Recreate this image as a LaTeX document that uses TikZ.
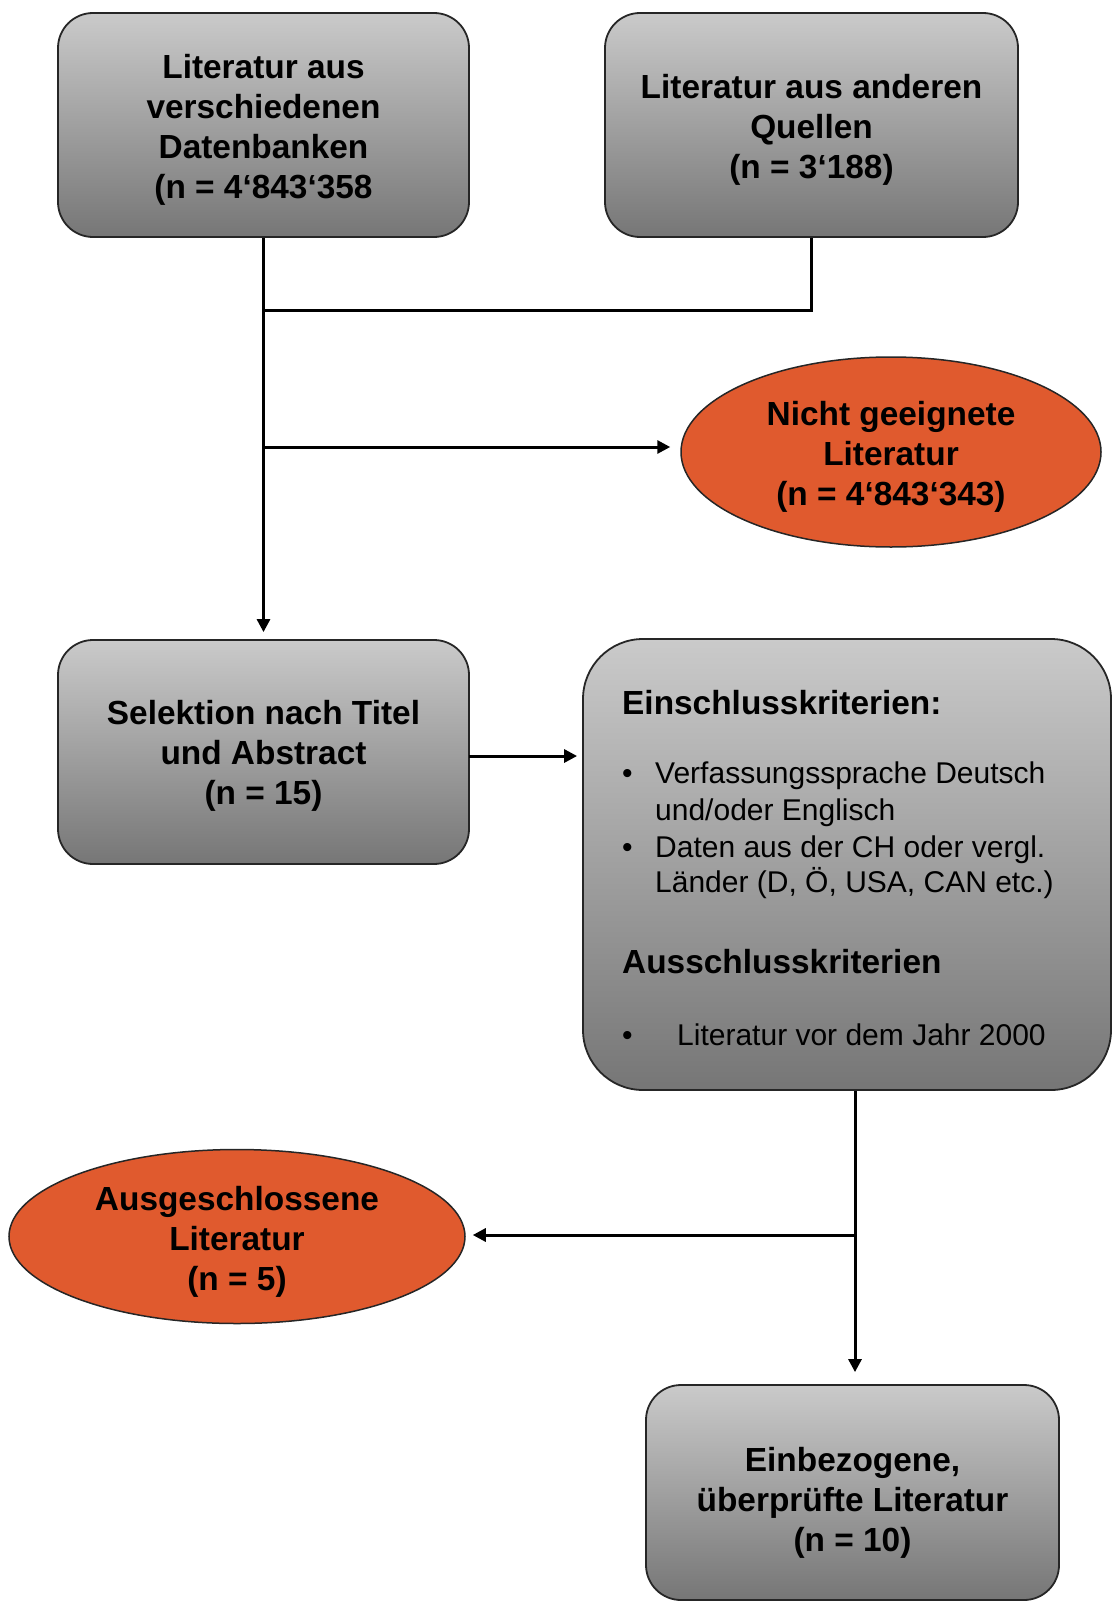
\documentclass[tikz,border=0pt]{standalone}
\usepackage{fontspec}
\setmainfont{Liberation Sans}
\usetikzlibrary{arrows.meta,shapes.geometric}
\definecolor{gtop}{RGB}{202,202,202}
\definecolor{gbot}{RGB}{118,118,118}
\definecolor{orng}{RGB}{224,90,46}
\begin{document}
\begin{tikzpicture}[x=1pt,y=-1pt,
  bigfont/.style={font=\bfseries\fontsize{33.4}{40}\selectfont},
  smallfont/.style={font=\fontsize{30}{36.5}\selectfont},
  gbox/.style={draw=black!85, line width=1.8pt, rounded corners=35pt,
    top color=gtop, bottom color=gbot, inner sep=0pt},
  oval/.style={ellipse, draw=black!85, line width=1.5pt, fill=orng, inner sep=0pt},
  lbl/.style={align=center, inner sep=0pt, bigfont},
  txt/.style={anchor=base west, inner sep=0pt},
  conn/.style={line width=3pt, black, line join=miter},
  arr/.style={conn, -{Triangle[length=13pt,width=13pt]}}
]
\useasboundingbox (0,0) rectangle (1113,1603);

\node[gbox, minimum width=411pt, minimum height=224pt] (b1) at (263.5,125) {};
\node[lbl] (b1t) at ([yshift=-5pt]b1.center)
  {Literatur aus\\verschiedenen\\Datenbanken\\(n = 4‘843‘358};
\node[gbox, minimum width=413pt, minimum height=224pt] (b2) at (811.5,125) {};
\node[lbl] (b2t) at ([yshift=-5pt]b2.center)
  {Literatur aus anderen\\Quellen\\(n = 3‘188)};
\node[oval, minimum width=420pt, minimum height=190pt] (e1) at (891,452) {};
\node[lbl] (e1t) at ([yshift=-5pt]e1.center)
  {Nicht geeignete\\Literatur\\(n = 4‘843‘343)};
\node[gbox, minimum width=411pt, minimum height=224pt] (b3) at (263.5,752) {};
\node[lbl] (b3t) at ([yshift=-4pt]b3.center)
  {Selektion nach Titel\\und Abstract\\(n = 15)};
\node[gbox, rounded corners=60pt, minimum width=528pt, minimum height=451pt] (b4) at (847,864.5) {};
\node[oval, minimum width=456pt, minimum height=174pt] (e2) at (237,1236.5) {};
\node[lbl] (e2t) at ([yshift=-5pt]e2.center)
  {Ausgeschlossene\\Literatur\\(n = 5)};
\node[gbox, minimum width=413pt, minimum height=215pt] (b5) at (852.5,1492.5) {};
\node[lbl] (b5t) at ([yshift=-10pt]b5.center)
  {Einbezogene,\\überprüfte Literatur\\(n = 10)};

% criteria text
\node[txt, bigfont] (h1) at (622,714) {Einschlusskriterien:};
\node[txt, smallfont] (d1) at (622,783) {•};
\node[txt, smallfont] (t1) at (655,783) {Verfassungssprache Deutsch};
\node[txt, smallfont] (t2) at (655,820) {und/oder Englisch};
\node[txt, smallfont] (d2) at (622,857) {•};
\node[txt, smallfont] (t3) at (655,857) {Daten aus der CH oder vergl.};
\node[txt, smallfont] (t4) at (655,892) {Länder (D, Ö, USA, CAN etc.)};
\node[txt, bigfont] (h2) at (622,973) {Ausschlusskriterien};
\node[txt, smallfont] (d3) at (622,1045) {•};
\node[txt, smallfont] (t5) at (677,1045) {Literatur vor dem Jahr 2000};

% connectors
\coordinate (j1) at (263.5,310);
\coordinate (j2) at (263.5,447);
\coordinate (j3) at (855,1235);
\coordinate (j4) at (469,756);
\draw[conn] (b2.south) |- (j1);
\draw[arr, shorten >=7pt] (b1.south) -- (b3.north);
\draw[arr, shorten >=10pt] (j2) -- (e1.west |- j2);
\draw[arr, shorten >=5pt] (j4) -- (b4.west |- j4);
\draw[arr, shorten >=12pt] (b4.south -| j3) -- (j3 |- b5.north);
\draw[arr, shorten >=7pt] (j3) -- (e2.east |- j3);
\end{tikzpicture}
\end{document}
